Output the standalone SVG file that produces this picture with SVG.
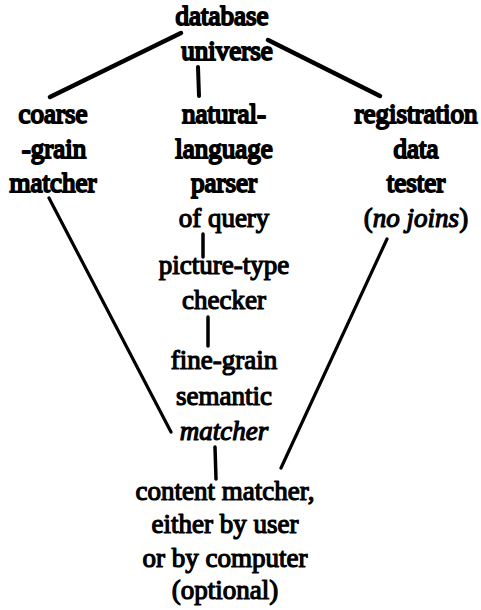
<svg xmlns="http://www.w3.org/2000/svg" width="481" height="610" viewBox="0 0 481 610">
<style>
text{font-family:"Liberation Serif","Times New Roman",serif;font-size:27px;fill:#000;text-anchor:middle;stroke:#000;stroke-width:1.2px;stroke-linejoin:round;}
.heavy{stroke-width:1.9px;}
.it{font-style:italic;}
.ln{stroke:#000;fill:none;stroke-linecap:round;}
</style>
<rect width="481" height="610" fill="#fff"/>
<g id="connectors">
<line class="ln" x1="181" y1="33" x2="50" y2="97" stroke-width="4.5"/>
<line class="ln" x1="198" y1="67" x2="199" y2="96" stroke-width="4"/>
<line class="ln" x1="268" y1="40" x2="380" y2="96" stroke-width="4.5"/>
<line class="ln" x1="203" y1="234" x2="203" y2="257" stroke-width="3.5"/>
<line class="ln" x1="208" y1="317" x2="208" y2="346" stroke-width="3.5"/>
<line class="ln" x1="215" y1="447" x2="216" y2="479" stroke-width="3.5"/>
<line class="ln" x1="49" y1="198" x2="171" y2="432" stroke-width="3.2"/>
<line class="ln" x1="387" y1="239" x2="281" y2="468" stroke-width="3.2"/>
</g>
<g id="database-universe">
<text class="heavy" x="222" y="25">database</text>
<text class="heavy" x="227" y="60">universe</text>
</g>
<g id="coarse-grain-matcher">
<text class="heavy" x="53" y="123">coarse</text>
<text class="heavy" x="54" y="158">-grain</text>
<text class="heavy" x="53" y="192">matcher</text>
</g>
<g id="natural-language-parser">
<text class="heavy" x="224" y="123">natural-</text>
<text class="heavy" x="224" y="158">language</text>
<text class="heavy" x="224" y="192">parser</text>
<text x="224" y="227">of query</text>
</g>
<g id="registration-data-tester">
<text class="heavy" x="416" y="123">registration</text>
<text class="heavy" x="416" y="158">data</text>
<text class="heavy" x="416" y="192">tester</text>
<text x="416" y="227">(<tspan class="it">no joins</tspan>)</text>
</g>
<g id="picture-type-checker">
<text x="224" y="274">picture-type</text>
<text x="224" y="309">checker</text>
</g>
<g id="fine-grain-semantic-matcher">
<text x="224" y="369">fine-grain</text>
<text x="224" y="405">semantic</text>
<text class="it" x="224" y="440">matcher</text>
</g>
<g id="content-matcher">
<text x="225" y="500">content matcher,</text>
<text x="225" y="533">either by user</text>
<text x="225" y="567">or by computer</text>
<text x="225" y="599">(optional)</text>
</g>
</svg>
